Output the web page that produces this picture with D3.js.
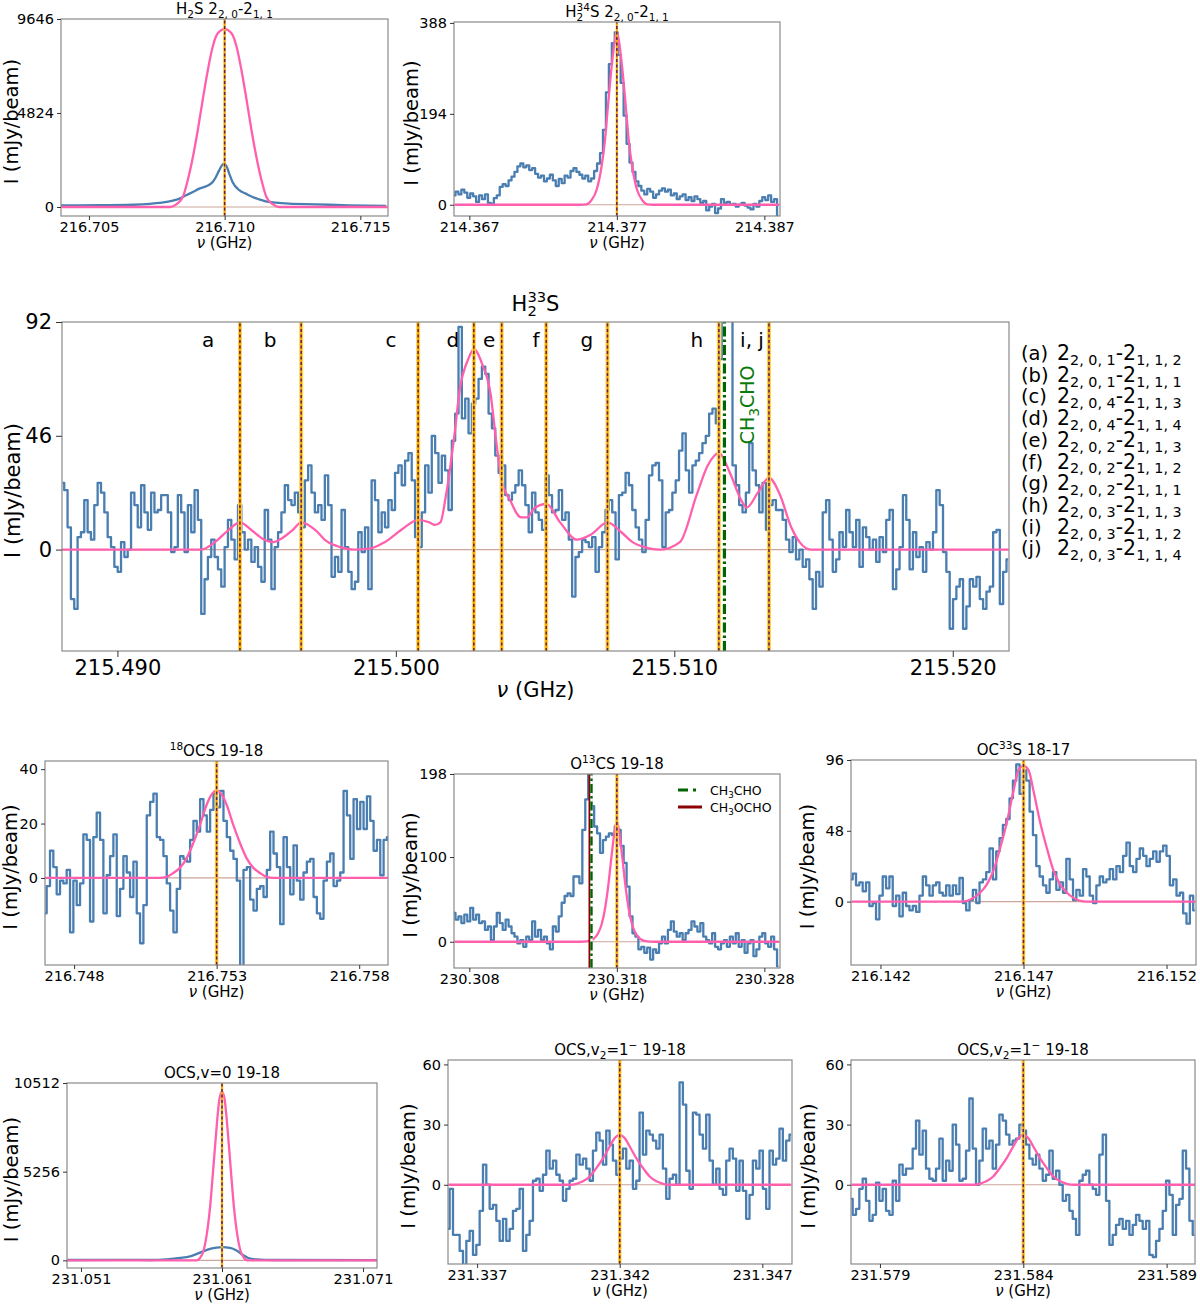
<!DOCTYPE html>
<html lang="en">
<head>
<meta charset="UTF-8">
<title>Sulphur-bearing line spectra</title>
<script src="https://d3js.org/d3.v7.min.js"></script>
<style>
  body { margin: 0; background: #fff; }
  text { font-family: "DejaVu Sans", sans-serif; white-space: pre; }
</style>
</head>
<body>
<svg id="fig" width="1200" height="1304"></svg>
<script>
// ---------- data ----------
// H2S 2(2,0)-2(1,1)
const h2sObs = [[216.70397, 85], [216.70541, 90], [216.70663, 115], [216.70724, 160], [216.70785, 257], [216.70834, 430],
  [216.70858, 600], [216.70883, 770], [216.70907, 940], [216.70932, 1060], [216.70956, 1285], [216.70968, 1540],
  [216.70980, 1880], [216.70995, 2200], [216.71005, 2140], [216.71017, 1710], [216.71029, 1285], [216.71054, 860],
  [216.71078, 685], [216.71103, 514], [216.71127, 394], [216.71151, 290], [216.71188, 220], [216.71237, 170],
  [216.71335, 137], [216.71457, 85], [216.71595, 50]];
const h2sModel = [[216.704, 0], [216.708, 0], [216.70822, 137], [216.70846, 514], [216.70864, 1370], [216.70883, 2570],
  [216.70901, 3940], [216.70919, 5480], [216.70938, 7020], [216.70956, 8220], [216.70974, 8900], [216.710, 9130],
  [216.71026, 8900], [216.71044, 8220], [216.71062, 7020], [216.71081, 5480], [216.71099, 3940], [216.71117, 2570],
  [216.71136, 1370], [216.71154, 514], [216.71178, 137], [216.712, 0], [216.716, 0]];
const h2sLines = [216.710];
const h2sXTicks = [216.705, 216.710, 216.715];
const h2sYTicks = [0, 4824, 9646];

// H2(34)S
const h234sStart = 214.36596, h234sStep = 0.0002;
const h234sObs = [20, 28, 22, 32, 26, 15, 24, 18, 6, 20, 12, 22, 4, 2, 14, 20, 38, 44, 40, 52,
  60, 70, 82, 88, 80, 84, 74, 78, 66, 58, 62, 50, 56, 64, 52, 40, 55, 46, 62, 58,
  72, 78, 70, 64, 56, 62, 50, 56, 72, 88, 110, 160, 240, 300, 345, 368, 320, 260, 190, 130,
  90, 70, 50, 40, 30, 22, 34, 28, 15, 22, 30, 35, 28, 32, 20, 24, 12, 18, 22, 10,
  16, 8, 18, 12, 4, 8, -12, -4, 2, -18, -8, 12, 4, 6, 0, 2, -4, 0, 4, -2,
  -6, -10, 2, -4, 8, 16, 10, 20, 6, 12, -25];
const h234sModel = [[214.366, 0], [214.3745, 0], [214.37494, 1], [214.37528, 10], [214.37562, 31], [214.37596, 81],
  [214.37619, 137], [214.37641, 215], [214.37664, 293], [214.37686, 350], [214.377, 370], [214.37714, 350],
  [214.37736, 293], [214.37759, 215], [214.37781, 137], [214.37804, 81], [214.37838, 31], [214.37872, 10],
  [214.37906, 1], [214.3795, 0], [214.388, 0]];
const h234sLines = [214.377];
const h234sXTicks = [214.367, 214.377, 214.387];
const h234sYTicks = [0, 194, 388];

// H2(33)S hyperfine group
const h233sStart = 215.48803, h233sStep = 0.00012;
const h233sObs = [27, 24, 9, -20, -24, 5, 7, 20, 7, 4, 18, 27, 23, 15, 5, 1, -7, -9, 3, -3,
  0, 23, 18, 9, 26, 15, 8, 23, 15, 16, 22, 22, 15, -1, 1, 22, 15, -1, 18, 7,
  24, 12, -26, -12, -3, 4, -3, -8, -15, 1, 12, 4, -4, 18, 7, 0, 4, -5, 1, -7,
  -13, 16, 4, -16, 1, 7, 15, 26, 20, 18, 23, 15, 9, 28, 34, 23, 15, 18, 12, 30,
  18, -11, -3, -9, 16, 1, -9, -16, -13, 7, -1, 9, -16, 28, 20, 7, 15, 9, 20, 16,
  31, 34, 26, 36, 39, 28, 5, 1, 15, 34, 23, 46, 39, 27, 38, 32, 16, 44, 55, 90,
  53, 61, 47, 59, 61, 69, 74, 71, 55, 49, 38, 31, 34, 22, 20, 23, 26,
  32, 26, 18, 7, 23, 15, 12, 8, 30, 22, 15, 16, 24, 12, 15, 4, -19, -3, -1, 4,
  3, 1, 5, -9, 1, 7, 16, 20, 15, -4, 22, 23, 31, 26, 16, 9, 4, -1, 12, 30,
  34, 35, 28, 1, 15, 16, 23, 28, 40, 47, 32, 23, 34, 36, 39, 43, 46, 55, 57, 51,
  77, 130, 130, 120, 34, 26, 18, 15, 23, 43, 32, 26, 15, 27, 8, 18, 20, 16, 16, 12,
  4, -1, 5, -4, 0, -7, -4, -12, -24, -9, -15, 15, 20, 4, -9, -4, 7, 1, 16, 7,
  1, 12, -7, 9, 5, 0, 4, -5, 5, -1, 12, 16, -16, -8, 1, 22, 12, -8, 7, -3,
  1, -9, 3, 0, 7, 24, 18, -1, -9, -32, -20, -15, -12, -32, -23, -12, -15, -11, -20, -24,
  -17, -15, 7, 8, -22, -9, -4];
const h233sModel = [[215.4880, 0], [215.4930, 0], [215.4935, 3], [215.4940, 8], [215.4944, 11], [215.4948, 8],
  [215.4952, 4.5], [215.4956, 3], [215.4959, 4.5], [215.4963, 8], [215.4966, 11], [215.4971, 8], [215.4975, 3.5],
  [215.4980, 1], [215.4985, 0], [215.4991, 0.5], [215.4996, 3], [215.5002, 8], [215.5008, 12], [215.5012, 11],
  [215.5014, 10], [215.5016, 11], [215.5018, 22], [215.5021, 46], [215.5023, 65], [215.5026, 77], [215.5028, 81],
  [215.5031, 75], [215.5034, 63], [215.5036, 44], [215.5038, 28], [215.5041, 20], [215.5045, 13], [215.5047, 13],
  [215.5050, 17], [215.5054, 18.5], [215.5059, 11], [215.5065, 4], [215.5070, 6], [215.5076, 11], [215.5081, 7],
  [215.5085, 3], [215.5091, 0.5], [215.5095, 0], [215.5102, 3], [215.5108, 22], [215.5112, 34], [215.5116, 39],
  [215.5120, 31], [215.5124, 20], [215.5126, 17], [215.5130, 23], [215.5134, 29], [215.5138, 22], [215.5142, 9],
  [215.5145, 3], [215.5149, 0], [215.5220, 0]];
const h233sLines = [215.4944, 215.4966, 215.5008, 215.5028, 215.5038, 215.5054, 215.5076, 215.5116, 215.5134];
const h233sLabels = ['a', 'b', 'c', 'd', 'e', 'f', 'g', 'h', 'i, j'];
const h233sLabelFreq = [215.49326, 215.49548, 215.49983, 215.50205, 215.50335, 215.50503, 215.50686, 215.51081, 215.51279];
const h233sLabelLevel = 82;
const h233sCh3cho = 215.5118;
const h233sCh3choText = [215.51286, 58.5];
const h233sXTicks = [215.490, 215.500, 215.510, 215.520];
const h233sYTicks = [0, 46, 92];
const hfsLetters = ['a', 'b', 'c', 'd', 'e', 'f', 'g', 'h', 'i', 'j'];
const hfsUpper = ['2, 0, 1', '2, 0, 1', '2, 0, 4', '2, 0, 4', '2, 0, 2', '2, 0, 2', '2, 0, 2', '2, 0, 3', '2, 0, 3', '2, 0, 3'];
const hfsLower = ['1, 1, 2', '1, 1, 1', '1, 1, 3', '1, 1, 4', '1, 1, 3', '1, 1, 2', '1, 1, 1', '1, 1, 3', '1, 1, 2', '1, 1, 4'];

// (18)OCS 19-18
const ocs18Start = 216.74698, ocs18Step = 0.000117;
const ocs18Obs = [-13, -3, 10, 4, -6, -1, -2, 3, -20, -1, -10, -2, 16, 14, -16, 15, 24, 14, -13, 1,
  8, 16, -14, -4, 8, 2, -7, 6, -13, -24, -10, 23, 28, 31, 15, 14, 8, -2, -12, -20,
  -4, 8, 7, 6, 14, 21, 17, 29, 23, 17, 25, 31, 26, 32, 21, 15, 10, 7, -1, -40,
  3, 4, -8, -12, -4, -3, -7, 3, 17, 9, 4, -17, 15, 4, -6, 12, -1, -8, 2, 6,
  7, -7, -13, -15, -1, 6, 9, -3, -1, 2, 32, 23, 7, 29, 18, 28, 18, 30, 21, 10,
  14, 1, 14, 15];
const ocs18Model = [[216.747, 0], [216.7510, 0], [216.75125, 0.4], [216.75148, 1.8], [216.75171, 3.7], [216.75195, 7.3],
  [216.75218, 12.8], [216.75242, 19.6], [216.75265, 26.9], [216.75282, 30.6], [216.753, 32.2], [216.75318, 30.6],
  [216.75335, 26.9], [216.75358, 19.6], [216.75382, 12.8], [216.75405, 7.3], [216.75429, 3.7], [216.75452, 1.8],
  [216.75475, 0.4], [216.7550, 0], [216.759, 0]];
const ocs18Lines = [216.753];
const ocs18XTicks = [216.748, 216.753, 216.758];
const ocs18YTicks = [0, 20, 40];

// O(13)CS 19-18
const o13csStart = 230.30696, o13csStep = 0.0002;
const o13csObs = [34, 26, 30, 22, 32, 24, 40, 26, 32, 22, 24, 14, 18, 2, 18, 34, 22, 14, 26, 18,
  10, 6, -2, 2, -6, 6, 2, 24, 6, 14, 2, 6, -2, -9, 18, 12, 30, 46, 54, 57,
  54, 77, 77, 69, 132, 168, 210, 160, 136, 128, 105, 120, 124, 128, 126, 136, 132, 113, 93, 65,
  30, 10, 6, -9, -6, -13, -7, -21, -9, -13, -2, 6, -2, 14, 24, 12, 6, 10, 2, 10,
  14, 24, 18, 12, 22, 6, 2, -2, 10, -6, -9, -2, 2, -6, 6, -2, 10, -6, 2, -13,
  -2, 2, -17, -9, 6, 10, -2, -6, 6, -9, -29];
const o13csModel = [[230.307, 0], [230.3155, 0], [230.31594, 0.4], [230.31639, 3], [230.31673, 10], [230.31696, 20],
  [230.31719, 38], [230.31741, 65], [230.31764, 101], [230.31786, 132], [230.318, 142], [230.31814, 132],
  [230.31836, 101], [230.31859, 65], [230.31881, 38], [230.31904, 20], [230.31927, 10], [230.31961, 3],
  [230.32006, 0.4], [230.3205, 0], [230.329, 0]];
const o13csLines = [230.318];
const o13csCh3ocho = 230.31618;
const o13csCh3cho = 230.31628;
const o13csXTicks = [230.308, 230.318, 230.328];
const o13csYTicks = [0, 100, 198];

// OC(33)S 18-17
const oc33sStart = 216.14097, oc33sStep = 0.0001167;
const oc33sObs = [15, 19, 11, 13, 7, 13, -3, -1, -12, 4, 17, 9, 17, -3, 4, -10, 6, -3, -6, -3,
  -7, 4, 17, 11, 4, 11, 13, 6, 4, 11, 4, 11, 5, 16, -1, -6, 1, 8, -1, 13,
  15, 20, 36, 15, 34, 43, 52, 56, 70, 82, 93, 73, 89, 82, 61, 45, 24, 17, 11, 6,
  15, 20, 8, 13, 6, 29, 15, 1, 8, 4, 22, 17, 4, -1, 11, 17, 13, 15, 22, 15,
  24, 20, 31, 40, 24, 20, 29, 36, 31, 24, 29, 34, 27, 34, 38, 31, 11, 15, 4, 6,
  -8, -15, 4, -6];
const oc33sModel = [[216.141, 0], [216.1448, 0], [216.14502, 0.5], [216.14525, 2.5], [216.14548, 6], [216.14572, 11.7],
  [216.14595, 21], [216.14618, 36], [216.14642, 54], [216.14665, 75], [216.14682, 89], [216.147, 92],
  [216.14718, 89], [216.14735, 75], [216.14758, 54], [216.14782, 36], [216.14805, 21], [216.14828, 11.7],
  [216.14852, 6], [216.14875, 2.5], [216.14898, 0.5], [216.1492, 0], [216.153, 0]];
const oc33sLines = [216.147];
const oc33sXTicks = [216.142, 216.147, 216.152];
const oc33sYTicks = [0, 48, 96];

// OCS v=0 19-18
const ocsV0Obs = [[231.0500, 20], [231.0540, 30], [231.0560, 20], [231.05708, 60], [231.05803, 140], [231.05874, 240],
  [231.05921, 380], [231.05968, 540], [231.06015, 680], [231.06062, 760], [231.0610, 780], [231.06157, 740],
  [231.06204, 580], [231.06251, 300], [231.06286, 140], [231.06345, 60], [231.06463, 20], [231.0720, 15]];
const ocsV0Model = [[231.050, 0], [231.0590, 0], [231.05921, 0], [231.05944, 140], [231.05968, 540], [231.05992, 1540],
  [231.06015, 3130], [231.06039, 5530], [231.06062, 7920], [231.06081, 9520], [231.061, 10000], [231.06119, 9520],
  [231.06138, 7920], [231.06161, 5530], [231.06185, 3130], [231.06208, 1540], [231.06232, 540], [231.06256, 140],
  [231.06279, 0], [231.072, 0]];
const ocsV0Lines = [231.061];
const ocsV0XTicks = [231.051, 231.061, 231.071];
const ocsV0YTicks = [0, 5256, 10512];

// OCS v2=1- 19-18 (231.342)
const ocsV2aStart = 231.33598, ocsV2aStep = 0.0001168;
const ocsV2aObs = [-22, -2, -25, -25, -33, -40, -28, -23, -35, -30, -13, 10, 0, -12, -10, -18, -28, -17, -28, -22,
  -13, -12, -2, -33, -25, -18, 2, 3, -3, 5, 17, 8, 12, 5, 2, -8, -2, 2, 3, 15,
  10, 13, 8, 2, 17, 26, 22, 10, 27, 20, 12, 5, 13, 18, 8, 12, -2, 2, 36, 15,
  27, 25, 22, 18, 25, 8, -7, 3, 5, 0, 51, 40, 7, -2, 36, 35, 25, 18, 35, 12,
  0, 8, -2, -5, 12, 18, 13, -3, 12, -3, -17, -5, 12, 8, 17, -2, -12, 17, 10, 13,
  28, 12, 22, 25];
const ocsV2aModel = [[231.336, 0], [231.34025, 0], [231.34048, 0.5], [231.34071, 1.7], [231.34095, 4.1], [231.34118, 8.3],
  [231.34142, 13.3], [231.34165, 19.1], [231.34182, 23.2], [231.342, 24.9], [231.34218, 23.2], [231.34235, 19.1],
  [231.34258, 13.3], [231.34282, 8.3], [231.34305, 4.1], [231.34329, 1.7], [231.34352, 0.5], [231.34375, 0],
  [231.348, 0]];
const ocsV2aLines = [231.342];
const ocsV2aXTicks = [231.337, 231.342, 231.347];

// OCS v2=1- 19-18 (231.584)
const ocsV2bStart = 231.57799, ocsV2bStep = 0.0001163;
const ocsV2bObs = [-7, -15, -12, -2, 3, -8, -18, -15, 1, -8, -2, -13, -15, 2, -8, 10, 5, 8, 8, 18,
  32, 15, 27, 8, 3, 2, 8, 23, 2, 12, 7, 30, 20, 2, 3, 17, 43, 18, 0, 12,
  28, 18, 22, 8, 20, 35, 32, 25, 20, 22, 23, 30, 27, 20, 13, 10, 15, 8, 2, 5,
  17, 3, 7, 0, -8, -5, -13, -17, -25, 2, 5, 7, 0, -2, -5, 15, 25, -8, -30, -25,
  -20, -17, -22, -18, -25, -20, -15, -18, -22, -18, -35, -36, -28, -22, -13, 2, -5, -25, -10, -7,
  17, 8, -18, -25];
const ocsV2bModel = [[231.578, 0], [231.58225, 0], [231.58248, 0.5], [231.58271, 1.7], [231.58295, 4.1], [231.58318, 8.3],
  [231.58342, 13.3], [231.58365, 19.1], [231.58382, 23.2], [231.584, 24.9], [231.58418, 23.2], [231.58435, 19.1],
  [231.58458, 13.3], [231.58482, 8.3], [231.58505, 4.1], [231.58529, 1.7], [231.58552, 0.5], [231.58575, 0],
  [231.590, 0]];
const ocsV2bLines = [231.584];
const ocsV2bXTicks = [231.579, 231.584, 231.589];
const ocsV2YTicks = [0, 30, 60];

// ---------- drawing ----------
const svg = d3.select('#fig');
const obsColor = '#4a7eb0';
const modelColor = '#ff5fad';
let clipN = 0;

function channels(start, step, vals) {
  return vals.map((v, i) => [start + i * step, v]);
}

// text with sub/superscripts, measured piece by piece
function rich(parent, x, y, segs, size, opts = {}) {
  const outer = parent.append('g')
    .attr('transform', `translate(${x},${y})` + (opts.rotate ? ` rotate(${opts.rotate})` : ''));
  const inner = outer.append('g');
  const fill = opts.fill || '#000';
  const add = (str, dx, dy, fs) => inner.append('text')
    .attr('x', dx).attr('y', dy).attr('font-size', fs).attr('fill', fill).text(str);
  let cx = 0;
  segs.forEach(s => {
    if (typeof s === 'string') {
      cx += add(s, cx, 0, size).node().getComputedTextLength();
    } else {
      let w = 0;
      if (s.sub) w = Math.max(w, add(s.sub, cx, size * 0.24, size * 0.7).node().getComputedTextLength());
      if (s.sup) w = Math.max(w, add(s.sup, cx, -size * 0.42, size * 0.7).node().getComputedTextLength());
      cx += w;
    }
  });
  if (opts.anchor === 'middle') inner.attr('transform', `translate(${-cx / 2},0)`);
  return outer;
}

function panel(o) {
  const [x0, y0, x1, y1] = o.box;
  const s = o.big ? { fs: 21, tick: 6, pad: 3, title: 21, ylab: 21, xlab: 21, xlabOff: 46, band: 4 }
                  : { fs: 14.5, tick: 4, pad: 2, title: 15, ylab: 19.5, xlab: 15, xlabOff: 32, band: o.band || 3.5 };
  const x = d3.scaleLinear().domain(o.xDomain).range([x0, x1]);
  const y = d3.scaleLinear().domain(o.yDomain).range([y1, y0]);
  const g = svg.append('g');
  const id = 'clip' + (clipN++);
  svg.append('clipPath').attr('id', id).append('rect')
    .attr('x', x0).attr('y', y0).attr('width', x1 - x0).attr('height', y1 - y0);
  const plot = g.append('g').attr('clip-path', `url(#${id})`);

  // zero level
  plot.append('line')
    .attr('x1', x0).attr('x2', x1).attr('y1', y(0)).attr('y2', y(0))
    .attr('stroke', '#cda59c').attr('stroke-width', 1.2);

  // observed spectrum
  const obsLine = d3.line().x(d => x(d[0])).y(d => y(d[1]))
    .curve(o.smooth ? d3.curveMonotoneX : d3.curveStep);
  plot.append('path').datum(o.obs)
    .attr('d', obsLine).attr('fill', 'none')
    .attr('stroke', obsColor).attr('stroke-width', 2.3).attr('stroke-linejoin', 'round');

  // model
  const modLine = d3.line().x(d => x(d[0])).y(d => y(d[1])).curve(d3.curveMonotoneX);
  plot.append('path').datum(o.model)
    .attr('d', modLine).attr('fill', 'none')
    .attr('stroke', modelColor).attr('stroke-width', 2.3);

  // rest frequencies of the fitted transitions
  o.lines.forEach(f => {
    plot.append('line').attr('x1', x(f)).attr('x2', x(f)).attr('y1', y1).attr('y2', y0)
      .attr('stroke', '#ffd23f').attr('stroke-width', s.band);
    plot.append('line').attr('x1', x(f)).attr('x2', x(f)).attr('y1', y1).attr('y2', y0)
      .attr('stroke', '#f59a12').attr('stroke-width', 1.6);
    plot.append('line').attr('x1', x(f)).attr('x2', x(f)).attr('y1', y1).attr('y2', y0)
      .attr('stroke', '#5a2450').attr('stroke-width', 1.5).attr('stroke-dasharray', '3,2.5');
  });

  // frame
  g.append('rect').attr('x', x0).attr('y', y0).attr('width', x1 - x0).attr('height', y1 - y0)
    .attr('fill', 'none').attr('stroke', '#8a8a8a').attr('stroke-width', 1.2);

  // axes
  g.append('g').attr('transform', `translate(0,${y1})`)
    .call(d3.axisBottom(x).tickValues(o.xTicks).tickFormat(d3.format('.3f')).tickSize(s.tick).tickPadding(s.pad))
    .call(a => {
      a.select('.domain').remove();
      a.attr('font-size', s.fs).attr('font-family', '"DejaVu Sans", sans-serif');
      a.selectAll('text').attr('fill', '#000');
      a.selectAll('line').attr('stroke', '#333');
    });
  g.append('g').attr('transform', `translate(${x0},0)`)
    .call(d3.axisLeft(y).tickValues(o.yTicks).tickFormat(d3.format('d')).tickSize(s.tick).tickPadding(s.pad + 1))
    .call(a => {
      a.select('.domain').remove();
      a.attr('font-size', s.fs).attr('font-family', '"DejaVu Sans", sans-serif');
      a.selectAll('text').attr('fill', '#000');
      a.selectAll('line').attr('stroke', '#333');
    });

  // labels
  g.append('text').attr('transform', `translate(${o.ylabX},${(y0 + y1) / 2 + 4}) rotate(-90)`)
    .attr('text-anchor', 'middle').attr('dy', '0.24em').attr('font-size', s.ylab).attr('fill', '#000')
    .text('I (mJy/beam)');
  const xl = g.append('text').attr('x', (x0 + x1) / 2).attr('y', y1 + s.xlabOff)
    .attr('text-anchor', 'middle').attr('font-size', s.xlab).attr('fill', '#000');
  xl.append('tspan').attr('font-style', 'italic').text('ν');
  xl.append('tspan').text(' (GHz)');
  rich(g, (x0 + x1) / 2, y0 - (o.big ? 11 : 5), o.title, s.title, { anchor: 'middle' });

  return { x, y, g, plot };
}

// top row
panel({ box: [61, 19, 388, 216], xDomain: [216.70397, 216.71602], yDomain: [-462, 9646],
  obs: h2sObs, smooth: true, model: h2sModel, lines: h2sLines, band: 2.5,
  xTicks: h2sXTicks, yTicks: h2sYTicks, ylabX: 13.5,
  title: ['H', { sub: '2' }, 'S 2', { sub: '2, 0' }, '-2', { sub: '1, 1' }] });

panel({ box: [454, 22, 780, 216], xDomain: [214.36596, 214.38806], yDomain: [-24, 390],
  obs: channels(h234sStart, h234sStep, h234sObs), model: h234sModel, lines: h234sLines, band: 2.5,
  xTicks: h234sXTicks, yTicks: h234sYTicks, ylabX: 413,
  title: ['H', { sub: '2', sup: '34' }, 'S 2', { sub: '2, 0' }, '-2', { sub: '1, 1' }] });

// H2(33)S
const big = panel({ big: true, box: [62, 322, 1009, 651], xDomain: [215.48801, 215.52202], yDomain: [-41, 92],
  obs: channels(h233sStart, h233sStep, h233sObs), model: h233sModel, lines: h233sLines,
  xTicks: h233sXTicks, yTicks: h233sYTicks, ylabX: 15,
  title: ['H', { sub: '2', sup: '33' }, 'S'] });

// CH3CHO contamination line
[['#fff', null], ['#006400', '10,3,2.5,3']].forEach(([c, dash]) => {
  big.plot.append('line')
    .attr('x1', big.x(h233sCh3cho)).attr('x2', big.x(h233sCh3cho))
    .attr('y1', big.y.range()[0]).attr('y2', big.y.range()[1])
    .attr('stroke', c).attr('stroke-width', 3.2).attr('stroke-dasharray', dash);
});
rich(big.g, big.x(h233sCh3choText[0]), big.y(h233sCh3choText[1]), ['CH', { sub: '3' }, 'CHO'], 19,
  { anchor: 'middle', rotate: -90, fill: '#0a7a0a' });

big.g.selectAll('.hfs').data(h233sLabels).join('text')
  .attr('class', 'hfs')
  .attr('x', (d, i) => big.x(h233sLabelFreq[i]))
  .attr('y', big.y(h233sLabelLevel))
  .attr('text-anchor', 'middle').attr('font-size', 20).attr('fill', '#000')
  .text(d => d);

// hyperfine component key
hfsLetters.forEach((l, i) => {
  const yy = 360 + i * 21.7;
  big.g.append('text').attr('x', 1021).attr('y', yy).attr('font-size', 19.5).attr('fill', '#000').text(`(${l})`);
  rich(big.g, 1057, yy, ['2', { sub: hfsUpper[i] }, '-2', { sub: hfsLower[i] }], 20.5);
});

// third row
panel({ box: [45, 761, 388, 965], xDomain: [216.74698, 216.75901], yDomain: [-32, 43],
  obs: channels(ocs18Start, ocs18Step, ocs18Obs), model: ocs18Model, lines: ocs18Lines,
  xTicks: ocs18XTicks, yTicks: ocs18YTicks, ylabX: 12.5,
  title: [{ sup: '18' }, 'OCS 19-18'] });

const o13 = panel({ box: [454, 774, 780, 968], xDomain: [230.30696, 230.32906], yDomain: [-31, 198],
  obs: channels(o13csStart, o13csStep, o13csObs), model: o13csModel, lines: o13csLines,
  xTicks: o13csXTicks, yTicks: o13csYTicks, ylabX: 412,
  title: ['O', { sup: '13' }, 'CS 19-18'] });

o13.plot.append('line')
  .attr('x1', o13.x(o13csCh3ocho)).attr('x2', o13.x(o13csCh3ocho))
  .attr('y1', o13.y.range()[0]).attr('y2', o13.y.range()[1])
  .attr('stroke', '#8b0000').attr('stroke-width', 3);
[['#fff', null], ['#006400', '9,3,2.5,3']].forEach(([c, dash]) => {
  o13.plot.append('line')
    .attr('x1', o13.x(o13csCh3cho)).attr('x2', o13.x(o13csCh3cho))
    .attr('y1', o13.y.range()[0]).attr('y2', o13.y.range()[1])
    .attr('stroke', c).attr('stroke-width', 2.4).attr('stroke-dasharray', dash);
});

// legend of the contaminating species
const leg = o13.g.append('g').attr('transform', 'translate(678,790)');
leg.append('line').attr('x1', 0).attr('x2', 24).attr('y1', 0).attr('y2', 0)
  .attr('stroke', '#006400').attr('stroke-width', 3).attr('stroke-dasharray', '10,5,3,6');
rich(leg, 32, 5, ['CH', { sub: '3' }, 'CHO'], 12.5);
leg.append('line').attr('x1', 0).attr('x2', 24).attr('y1', 17).attr('y2', 17)
  .attr('stroke', '#8b0000').attr('stroke-width', 3);
rich(leg, 32, 22, ['CH', { sub: '3' }, 'OCHO'], 12.5);

panel({ box: [851, 760, 1196, 965], xDomain: [216.14097, 216.15303], yDomain: [-43, 96],
  obs: channels(oc33sStart, oc33sStep, oc33sObs), model: oc33sModel, lines: oc33sLines,
  xTicks: oc33sXTicks, yTicks: oc33sYTicks, ylabX: 809,
  title: ['OC', { sup: '33' }, 'S 18-17'] });

// bottom row
panel({ box: [67, 1083, 377, 1268], xDomain: [231.05001, 231.07199], yDomain: [-454, 10512],
  obs: ocsV0Obs, smooth: true, model: ocsV0Model, lines: ocsV0Lines, band: 2.5,
  xTicks: ocsV0XTicks, yTicks: ocsV0YTicks, ylabX: 13.5,
  title: ['OCS,v=0 19-18'] });

panel({ box: [448, 1060, 792, 1264], xDomain: [231.33598, 231.34804], yDomain: [-39.5, 62.2],
  obs: channels(ocsV2aStart, ocsV2aStep, ocsV2aObs), model: ocsV2aModel, lines: ocsV2aLines,
  xTicks: ocsV2aXTicks, yTicks: ocsV2YTicks, ylabX: 410,
  title: ['OCS,v', { sub: '2' }, '=1', { sup: '−' }, ' 19-18'] });

panel({ box: [851, 1060, 1195, 1264], xDomain: [231.57799, 231.58999], yDomain: [-39.5, 62.2],
  obs: channels(ocsV2bStart, ocsV2bStep, ocsV2bObs), model: ocsV2bModel, lines: ocsV2bLines,
  xTicks: ocsV2bXTicks, yTicks: ocsV2YTicks, ylabX: 810,
  title: ['OCS,v', { sub: '2' }, '=1', { sup: '−' }, ' 19-18'] });
</script>
</body>
</html>
